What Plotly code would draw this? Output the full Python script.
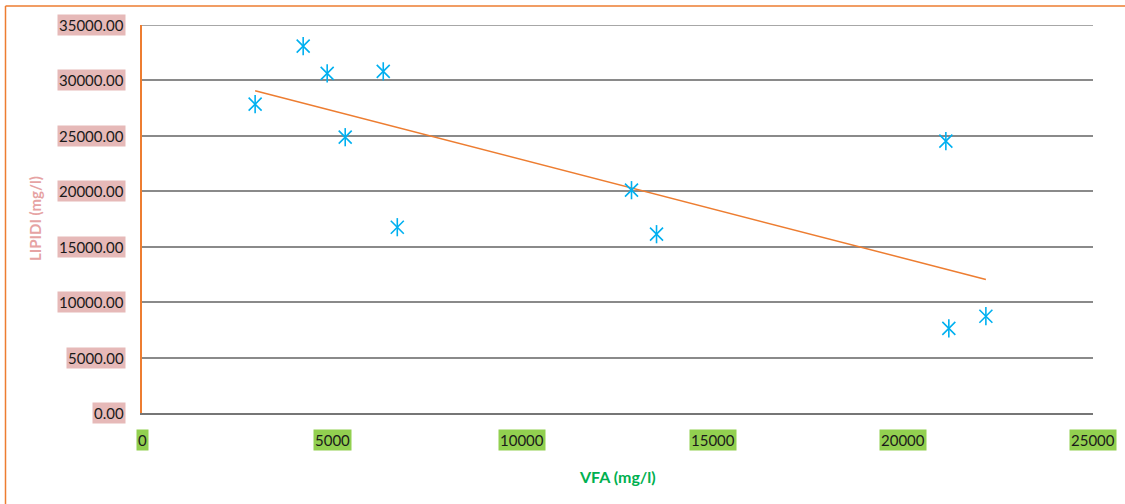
import numpy as np
import plotly.graph_objects as go

# Data
vfa = [2974, 4237, 4868, 6342, 5342, 6711, 12868, 13526, 21132, 21210, 22184]
lipidi = [27860, 33090, 30640, 30820, 24880, 16760, 20100, 16130, 24520, 7640, 8730]

y_ticks = [0, 5000, 10000, 15000, 20000, 25000, 30000, 35000]
y_tick_labels = ["0.00", "5000.00", "10000.00", "15000.00", "20000.00", "25000.00", "30000.00", "35000.00"]
x_ticks = [0, 5000, 10000, 15000, 20000, 25000]
x_tick_labels = ["0", "5000", "10000", "15000", "20000", "25000"]

W, H = 1125, 504
L, R, T, B = 142, 32, 25, 91
pw, ph = W - L - R, H - T - B

FONT = "Lato"
BLUE = "#00B0F0"
ORANGE = "#ED7D31"
GRID = "#8A8A8A"

# linear trendline (least squares)
slope, intercept = np.polyfit(vfa, lipidi, 1)
tx = [min(vfa), max(vfa)]
ty = [slope * v + intercept for v in tx]

fig = go.Figure()
fig.add_trace(go.Scatter(x=tx, y=ty, mode="lines",
                         line=dict(color=ORANGE, width=1.5), showlegend=False, hoverinfo="skip"))
for sym in ["x-thin-open", "line-ns-open"]:
    fig.add_trace(go.Scatter(x=vfa, y=lipidi, mode="markers", showlegend=False,
                             marker=dict(symbol=sym, size=13, color=BLUE,
                                         line=dict(color=BLUE, width=1.6))))

annotations = []
for v, t in zip(y_ticks, y_tick_labels):
    annotations.append(dict(x=(126 - L) / pw, xref="paper", y=v, yref="y",
                            text=t, showarrow=False, xanchor="right", yanchor="middle",
                            bgcolor="#E6B9B8", borderpad=1,
                            font=dict(family=FONT, size=15, color="#1a1a1a")))
for v, t in zip(x_ticks, x_tick_labels):
    annotations.append(dict(x=v, xref="x", y=-(440 - (H - B)) / ph, yref="paper",
                            text=t, showarrow=False, xanchor="center", yanchor="middle",
                            bgcolor="#92D050", borderpad=1,
                            font=dict(family=FONT, size=15, color="#1a1a1a")))
annotations.append(dict(x=0.5, xref="paper", y=-(476 - (H - B)) / ph, yref="paper",
                        text="<b>VFA (mg/l)</b>", showarrow=False, xanchor="center", yanchor="middle",
                        font=dict(family=FONT, size=16, color="#00B050")))
annotations.append(dict(x=(35 - L) / pw, xref="paper", y=0.5, yref="paper",
                        text="<b>LIPIDI (mg/l)</b>", showarrow=False, textangle=-90,
                        xanchor="center", yanchor="middle",
                        font=dict(family=FONT, size=15, color="#E6A3A3")))

shapes = [
    dict(type="line", xref="paper", yref="paper",
         x0=(5.5 - L) / pw, x1=(W + 10 - L) / pw, y0=(H - B - 6) / ph, y1=(H - B - 6) / ph,
         line=dict(color=ORANGE, width=1.5)),
    dict(type="line", xref="paper", yref="paper",
         x0=(5.5 - L) / pw, x1=(5.5 - L) / pw, y0=(H - B - 6) / ph, y1=-(W) / ph,
         line=dict(color=ORANGE, width=1.5)),
    # top gridline at the highest tick
    dict(type="line", xref="paper", yref="y", x0=0, x1=1, y0=y_ticks[-1], y1=y_ticks[-1],
         line=dict(color=GRID, width=1.5), layer="below"),
]

fig.update_layout(
    width=W, height=H,
    margin=dict(l=L, r=R, t=T, b=B),
    paper_bgcolor="white", plot_bgcolor="white",
    font=dict(family=FONT),
    annotations=annotations, shapes=shapes,
    xaxis=dict(range=[0, 25000], showgrid=False, zeroline=False, showticklabels=False,
               showline=True, linecolor="#767676", linewidth=2, ticks=""),
    yaxis=dict(range=[0, 35000], tickvals=y_ticks, showgrid=True, gridcolor=GRID,
               gridwidth=1.5, zeroline=False, showticklabels=False,
               showline=True, linecolor=ORANGE, linewidth=2, ticks=""),
)

fig.write_html("out.html", config={"displayModeBar": False},
               post_script="document.body.style.margin='0';document.body.style.padding='0';")
